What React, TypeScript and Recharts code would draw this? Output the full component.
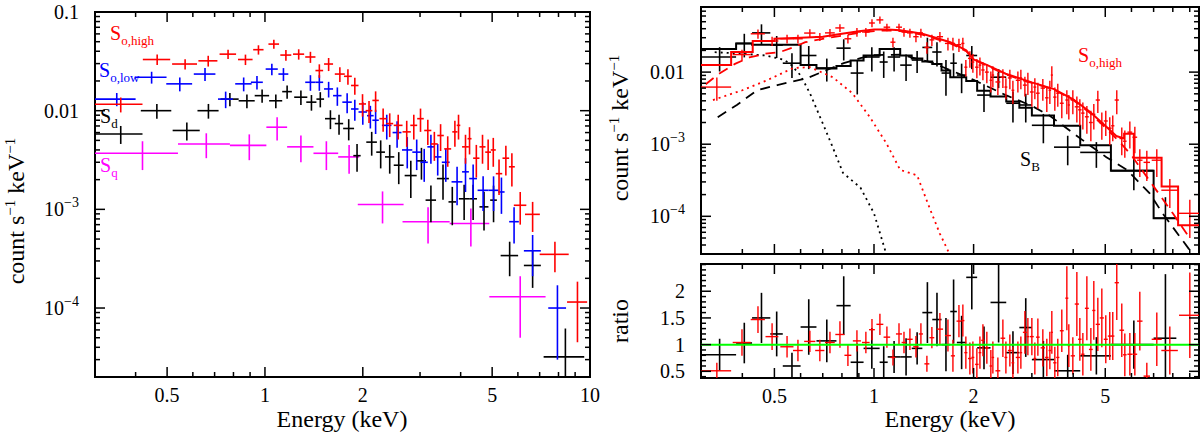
import React from "react"
import { ComposedChart, Scatter, Line, XAxis, YAxis, ErrorBar, ReferenceArea, ReferenceLine } from "recharts"

const FONT = '"Liberation Serif", "Times New Roman", serif'
const RED = "#ff0000"
const BLUE = "#0000ff"
const MAG = "#ff00ff"
const BLK = "#000000"
const GRN = "#00ff00"

// ---- ticks ----
const xMajor = [0.5, 1, 2, 5, 10]
const xMajorR = [0.5, 1, 2, 5]
const xMinor = [0.3, 0.4, 0.6, 0.7, 0.8, 0.9, 3, 4, 6, 7, 8, 9]
const yMajorL = [1e-4, 1e-3, 0.01, 0.1]
const yMajorR = [1e-4, 1e-3, 0.01]
const ratioMajor = [0.5, 1, 1.5, 2]
const ratioMinor = [0.4, 0.6, 0.7, 0.8, 0.9, 1.1, 1.2, 1.3, 1.4, 1.6, 1.7, 1.8, 1.9, 2.1, 2.2, 2.3, 2.4, 2.5]
const logMinors = (decades: number[], lo: number, hi: number) =>
  decades.flatMap((d) => [2, 3, 4, 5, 6, 7, 8, 9].map((k) => k * d)).filter((v) => v >= lo * 0.999 && v <= hi * 1.001)

// axis ranges
const xLeft: [number, number] = [0.3, 10]
const yLeft: [number, number] = [2e-5, 0.1]
const xRight: [number, number] = [0.3, 9.6]
const yRight: [number, number] = [3e-5, 0.08]
const yRatio: [number, number] = [0.375, 2.51]

// ---- left panel: S_o,high ----
const hiE = [0.36, 0.466, 0.568, 0.669, 0.77, 0.871, 0.955, 1.065, 1.16, 1.27, 1.38, 1.47, 1.57, 1.7, 1.8, 1.89, 1.996, 2.09, 2.19, 2.31, 2.42, 2.57, 2.73, 2.87, 3.01, 3.17, 3.32, 3.47, 3.65, 3.84, 3.94, 4.14, 4.26, 4.47, 4.67, 4.86, 5.04, 5.25, 5.51, 5.75, 6.1, 6.66, 7.8, 9.15]
const hiDE = [0.06, 0.045, 0.05, 0.045, 0.045, 0.045, 0.035, 0.04, 0.045, 0.05, 0.05, 0.04, 0.05, 0.06, 0.05, 0.05, 0.05, 0.05, 0.05, 0.06, 0.06, 0.08, 0.08, 0.07, 0.07, 0.08, 0.08, 0.08, 0.09, 0.07, 0.05, 0.1, 0.06, 0.1, 0.1, 0.1, 0.09, 0.12, 0.13, 0.12, 0.27, 0.35, 0.8, 0.65]
const hiY = [0.0116, 0.033, 0.0297, 0.032, 0.0374, 0.033, 0.0415, 0.0473, 0.0366, 0.0374, 0.035, 0.0255, 0.0297, 0.0235, 0.0223, 0.018, 0.0117, 0.01, 0.0127, 0.0083, 0.0074, 0.0071, 0.0061, 0.0071, 0.0083, 0.0063, 0.0046, 0.0056, 0.0041, 0.0061, 0.0071, 0.0043, 0.0052, 0.0033, 0.0043, 0.0038, 0.004, 0.0023, 0.0033, 0.0027, 0.0011, 0.00089, 0.00035, 0.000115]
const hiDY = [0.002, 0.004, 0.0035, 0.004, 0.004, 0.004, 0.0045, 0.005, 0.0045, 0.0045, 0.0045, 0.004, 0.0045, 0.004, 0.004, 0.0035, 0.003, 0.0025, 0.003, 0.0022, 0.002, 0.002, 0.0018, 0.002, 0.0022, 0.0018, 0.0015, 0.0017, 0.0014, 0.0018, 0.002, 0.0014, 0.0016, 0.0012, 0.0014, 0.0013, 0.0013, 0.0009, 0.0011, 0.001, 0.0004, 0.0003, 0.00012, 0.00007]

// S_o,low
const loE = [0.35, 0.448, 0.547, 0.654, 0.757, 0.86, 0.945, 1.05, 1.14, 1.38, 1.47, 1.57, 1.67, 1.79, 1.89, 2.0, 2.11, 2.19, 2.37, 2.55, 2.74, 2.93, 3.09, 3.24, 3.4, 3.6, 3.9, 4.14, 4.37, 4.69, 5.05, 5.34, 5.84, 6.66, 7.94]
const loDE = [0.05, 0.05, 0.05, 0.05, 0.04, 0.05, 0.04, 0.045, 0.04, 0.05, 0.04, 0.05, 0.05, 0.06, 0.05, 0.06, 0.05, 0.05, 0.08, 0.08, 0.1, 0.09, 0.08, 0.08, 0.09, 0.1, 0.15, 0.1, 0.12, 0.18, 0.18, 0.12, 0.2, 0.4, 0.5]
const loY = [0.0131, 0.0218, 0.0187, 0.0235, 0.0131, 0.0187, 0.0194, 0.0264, 0.0235, 0.0194, 0.0194, 0.0166, 0.0142, 0.0122, 0.0104, 0.0097, 0.0089, 0.008, 0.0071, 0.006, 0.004, 0.0038, 0.003, 0.0043, 0.0034, 0.003, 0.0019, 0.0024, 0.00205, 0.00156, 0.00156, 0.0015, 0.00075, 0.00038, 0.0001]
const loDY = [0.002, 0.003, 0.003, 0.0035, 0.0025, 0.003, 0.003, 0.0035, 0.0035, 0.0035, 0.0035, 0.003, 0.003, 0.0028, 0.0025, 0.0025, 0.0023, 0.0022, 0.002, 0.0018, 0.0014, 0.0013, 0.0011, 0.0014, 0.0012, 0.0011, 0.0008, 0.0009, 0.0008, 0.0006, 0.0006, 0.0006, 0.0003, 0.00017, 0.00007]

// S_d
const sdE = [0.36, 0.465, 0.575, 0.67, 0.78, 0.88, 0.98, 1.08, 1.17, 1.29, 1.39, 1.48, 1.59, 1.69, 1.81, 1.92, 2.13, 2.27, 2.42, 2.58, 2.81, 3.03, 3.24, 3.53, 3.77, 4.1, 4.37, 4.72, 5.05, 5.66, 6.66, 8.4]
const sdDE = [0.06, 0.05, 0.055, 0.05, 0.05, 0.05, 0.05, 0.05, 0.04, 0.06, 0.05, 0.04, 0.06, 0.05, 0.07, 0.05, 0.08, 0.07, 0.08, 0.09, 0.12, 0.1, 0.12, 0.15, 0.1, 0.15, 0.12, 0.15, 0.12, 0.35, 0.4, 1.2]
const sdY = [0.0058, 0.01, 0.0063, 0.01, 0.0131, 0.0126, 0.0142, 0.0126, 0.0156, 0.0137, 0.0122, 0.0131, 0.0083, 0.0074, 0.0066, 0.0035, 0.0048, 0.0038, 0.0034, 0.0028, 0.0022, 0.0031, 0.00124, 0.00205, 0.00119, 0.00128, 0.00128, 0.00106, 0.00124, 0.00034, 0.00027, 0.000032]
const sdDY = [0.0012, 0.0017, 0.0013, 0.0017, 0.002, 0.002, 0.0022, 0.002, 0.0024, 0.0023, 0.0022, 0.0023, 0.0018, 0.0017, 0.0016, 0.0011, 0.0013, 0.0012, 0.0011, 0.001, 0.0009, 0.0011, 0.0005, 0.0008, 0.0005, 0.0005, 0.0005, 0.00045, 0.0005, 0.00013, 0.00011, 0.00003]

// S_q
const sqE = [0.42, 0.66, 0.895, 1.09, 1.29, 1.545, 1.815, 2.3, 3.175, 4.3, 6.1]
const sqDE = [0.12, 0.12, 0.115, 0.08, 0.12, 0.135, 0.135, 0.37, 0.525, 0.6, 1.2]
const sqY = [0.0037, 0.0046, 0.00445, 0.0068, 0.0043, 0.0037, 0.0034, 0.00112, 0.00075, 0.00072, 0.00013]
const sqDY = [0.0012, 0.0013, 0.0013, 0.0018, 0.0013, 0.0012, 0.0011, 0.0004, 0.0003, 0.0003, 0.00008]

// ---- right panel: S_B (black) ----
const sbE = [0.3415, 0.4055, 0.457, 0.508, 0.565, 0.635, 0.72, 0.81, 0.89, 0.985, 1.07, 1.15, 1.25, 1.35, 1.45, 1.55, 1.65, 1.74, 1.84, 1.975, 2.15, 2.38, 2.63, 2.875, 3.25, 3.85, 4.7, 6.1, 7.6]
const sbDE = [0.0415, 0.0225, 0.029, 0.022, 0.035, 0.035, 0.05, 0.04, 0.04, 0.055, 0.03, 0.05, 0.05, 0.05, 0.05, 0.05, 0.05, 0.04, 0.06, 0.075, 0.1, 0.13, 0.12, 0.125, 0.25, 0.35, 0.5, 0.9, 0.6]
const sbY = [0.0162, 0.025, 0.035, 0.0237, 0.0133, 0.017, 0.0114, 0.0215, 0.0097, 0.0162, 0.0138, 0.0162, 0.0125, 0.0147, 0.022, 0.019, 0.0097, 0.0133, 0.0091, 0.017, 0.0048, 0.0085, 0.0037, 0.0035, 0.00183, 0.00091, 0.00077, 0.00043, 0.000094]
const sbDY = [0.006, 0.009, 0.011, 0.008, 0.005, 0.006, 0.004, 0.007, 0.0048, 0.006, 0.0055, 0.006, 0.005, 0.005, 0.008, 0.007, 0.005, 0.005, 0.004, 0.006, 0.002, 0.0025, 0.0017, 0.0015, 0.0008, 0.0004, 0.0003, 0.0002, 0.00009]
const sbModel = [0.021, 0.025, 0.024, 0.024, 0.024, 0.0125, 0.0112, 0.0122, 0.0145, 0.017, 0.021, 0.021, 0.017, 0.0155, 0.014, 0.013, 0.0105, 0.0085, 0.0085, 0.0075, 0.0055, 0.0046, 0.0039, 0.0032, 0.0025, 0.0018, 0.00097, 0.00043, 0.000094]
const sbRatio = [0.81, 1.03, 1.5, 1.2, 0.6, 1.33, 1.07, 1.73, 0.67, 0.93, 0.67, 0.77, 0.77, 0.93, 1.6, 1.47, 1.0, 1.62, 1.04, 2.26, 0.94, 1.79, 0.85, 1.32, 0.72, 0.51, 0.79, 1.0, 1.12]
const sbDRatio = [0.3, 0.38, 0.47, 0.42, 0.25, 0.52, 0.4, 0.55, 0.35, 0.38, 0.3, 0.3, 0.35, 0.3, 0.57, 0.5, 0.5, 0.6, 0.5, 0.6, 0.4, 0.75, 0.4, 0.55, 0.35, 0.3, 0.35, 0.45, 1.2]

// S_o,high (red, right panel)
const soE = [0.335, 0.399, 0.446, 0.492, 0.546, 0.589, 0.64, 0.686, 0.736, 0.789, 0.834, 0.888, 0.945, 0.986, 1.042, 1.094, 1.141, 1.19, 1.232, 1.284, 1.339, 1.386, 1.445, 1.496, 1.582, 1.673,
  1.732, 1.806, 1.856, 1.895, 1.949, 1.99, 2.046, 2.09, 2.134, 2.193,
  2.255, 2.287, 2.368, 2.452, 2.504, 2.574, 2.629, 2.722, 2.779, 2.858,
  2.918, 3.0, 3.063, 3.128, 3.238, 3.329, 3.4, 3.447, 3.52, 3.593,
  3.695, 3.827, 3.88, 3.99, 4.103, 4.189, 4.278, 4.399, 4.523, 4.617,
  4.748, 4.882, 5.018, 5.159, 5.268, 5.417, 5.609, 5.729, 5.933, 6.143,
  6.359, 6.677, 7.157, 7.836, 9.006]
const soDE = [0.035, 0.025, 0.022, 0.022, 0.025, 0.02, 0.025, 0.022, 0.025, 0.025, 0.02, 0.025, 0.025, 0.02, 0.025, 0.025, 0.02, 0.025, 0.02, 0.025, 0.025, 0.02, 0.025, 0.025, 0.035, 0.035,
  0.025, 0.03, 0.02, 0.02, 0.025, 0.02, 0.025, 0.02, 0.025, 0.03,
  0.02, 0.02, 0.04, 0.04, 0.025, 0.035, 0.025, 0.04, 0.025, 0.04,
  0.03, 0.04, 0.03, 0.04, 0.05, 0.04, 0.03, 0.025, 0.04, 0.04,
  0.05, 0.04, 0.03, 0.06, 0.06, 0.05, 0.05, 0.06, 0.06, 0.05,
  0.07, 0.07, 0.07, 0.07, 0.06, 0.08, 0.09, 0.07, 0.1, 0.1,
  0.12, 0.15, 0.25, 0.45, 0.65]
const soY = [0.0062, 0.0175, 0.034, 0.027, 0.029, 0.029, 0.0348, 0.031, 0.035, 0.041, 0.029, 0.036, 0.036, 0.048, 0.053, 0.042, 0.026, 0.042, 0.036, 0.035, 0.031, 0.035, 0.022, 0.028, 0.031, 0.025,
  0.025, 0.024, 0.025, 0.0117, 0.0155, 0.0138, 0.0117, 0.0125, 0.0107, 0.01,
  0.0077, 0.0091, 0.0073, 0.0085, 0.0062, 0.0083, 0.0056, 0.0077, 0.0083, 0.0066,
  0.0073, 0.0053, 0.0062, 0.0051, 0.006, 0.0044, 0.0056, 0.0091, 0.0045, 0.0051,
  0.0037, 0.0041, 0.0035, 0.0041, 0.0033, 0.003, 0.0027, 0.0024, 0.002, 0.0026,
  0.0041, 0.00195, 0.0021, 0.00167, 0.0018, 0.0041, 0.0012, 0.0011, 0.00147, 0.00125,
  0.0006, 0.00056, 0.0006, 0.00023, 0.00011]
const soDY = [0.0022, 0.003, 0.005, 0.004, 0.004, 0.004, 0.0045, 0.004, 0.0045, 0.005, 0.004, 0.005, 0.005, 0.006, 0.006, 0.005, 0.004, 0.005, 0.005, 0.005, 0.005, 0.005, 0.004, 0.005, 0.005, 0.005,
  0.005, 0.005, 0.005, 0.003, 0.004, 0.004, 0.0035, 0.0035, 0.003, 0.003,
  0.0025, 0.003, 0.0025, 0.0025, 0.002, 0.0025, 0.002, 0.0025, 0.0025, 0.002,
  0.0025, 0.002, 0.002, 0.002, 0.002, 0.0016, 0.002, 0.003, 0.0016, 0.0018,
  0.0014, 0.0015, 0.0013, 0.0015, 0.0013, 0.0012, 0.0011, 0.001, 0.0009, 0.001,
  0.0014, 0.0008, 0.0008, 0.0007, 0.0007, 0.0015, 0.0005, 0.00045, 0.0006, 0.0005,
  0.00025, 0.00025, 0.00025, 0.0001, 0.00006]
const soRatio = [0.51, 1.04, 1.47, 1.15, 0.96, 0.89, 1.06, 0.89, 1.04, 1.19, 0.8, 1.07, 1.04, 1.28, 1.38, 1.14, 0.76, 1.2, 1.04, 1.1, 0.96, 1.2, 0.64, 1.13, 1.29, 1.17,
  0.79, 1.44, 1.45, 0.85, 0.74, 0.76, 0.63, 0.85, 1.08, 0.94,
  0.6, 0.76, 0.51, 1.12, 0.76, 0.89, 0.66, 0.76, 0.85, 1.23,
  1.15, 1.15, 0.74, 1.14, 0.94, 0.76, 0.89, 1.23, 0.66, 0.76,
  1.26, 1.87, 0.98, 0.79, 1.76, 1.1, 0.82, 1.68, 0.91, 1.64,
  1.38, 1.5, 1.1, 1.16, 1.16, 2.16, 1.27, 0.81, 0.82, 0.82,
  1.44, 0.41, 1.1, 0.89, 1.55]
const soDRatio = [0.15, 0.25, 0.25, 0.25, 0.2, 0.2, 0.2, 0.2, 0.2, 0.25, 0.2, 0.2, 0.2, 0.2, 0.2, 0.2, 0.15, 0.2, 0.2, 0.2, 0.2, 0.2, 0.15, 0.2, 0.3, 0.3,
  0.3, 0.3, 0.3, 0.3, 0.3, 0.3, 0.3, 0.3, 0.3, 0.3,
  0.3, 0.3, 0.25, 0.35, 0.3, 0.3, 0.3, 0.3, 0.3, 0.4,
  0.35, 0.35, 0.3, 0.35, 0.35, 0.35, 0.35, 0.4, 0.3, 0.35,
  0.4, 0.6, 0.4, 0.35, 0.6, 0.4, 0.4, 0.6, 0.4, 0.55,
  0.5, 0.55, 0.45, 0.45, 0.45, 0.7, 0.5, 0.4, 0.4, 0.4,
  0.55, 0.25, 0.5, 0.45, 0.8]

// model curves (right panel)
const redModelE = [0.3, 0.37, 0.37, 0.43, 0.43, 0.5, 0.5, 0.6, 0.7, 0.8, 0.9, 1.0, 1.1, 1.2, 1.3, 1.4, 1.5, 1.7, 1.9, 2.0, 2.2, 2.5, 2.8, 3.0, 3.5, 4.0, 4.5, 5.0, 5.4, 5.7, 5.7, 6.1, 6.1, 7.4, 7.4, 8.3, 8.3, 9.6]
const redModelY = [0.0125, 0.0125, 0.019, 0.019, 0.027, 0.027, 0.029, 0.03, 0.031, 0.034, 0.037, 0.039, 0.039, 0.038, 0.036, 0.034, 0.031, 0.026, 0.02, 0.015, 0.0125, 0.0095, 0.008, 0.0072, 0.0058, 0.0042, 0.0028, 0.0018, 0.0013, 0.0012, 0.0014, 0.0014, 0.00065, 0.00065, 0.00026, 0.00026, 0.000075, 0.000075]
const redHardE = [0.31, 0.34, 0.38, 0.42, 0.47, 0.52, 0.57, 0.62, 0.7, 0.8, 0.9, 1.0, 1.1, 1.2, 1.3, 1.4, 1.5, 1.7, 1.9, 2.0, 2.2, 2.5, 2.8, 3.0, 3.5, 4.0, 4.5, 5.0, 5.5, 6.0, 7.0, 8.0, 9.0]
const redHardY = [0.0068, 0.0095, 0.013, 0.016, 0.018, 0.019, 0.022, 0.026, 0.029, 0.032, 0.035, 0.037, 0.038, 0.037, 0.035, 0.033, 0.03, 0.025, 0.0195, 0.015, 0.0122, 0.0093, 0.0078, 0.0071, 0.0057, 0.0041, 0.0027, 0.0017, 0.0011, 0.0007, 0.00026, 0.00011, 0.00005]
const redSoftE = [0.326, 0.4, 0.475, 0.57, 0.64, 0.75, 0.86, 0.97, 1.09, 1.2, 1.35, 1.47, 1.58, 1.67, 1.72]
const redSoftY = [0.0041, 0.0056, 0.0077, 0.0114, 0.0117, 0.0085, 0.0051, 0.0024, 0.00103, 0.00044, 0.00037, 0.000133, 0.000058, 0.000034, 0.000024]
const blkHardE = [0.337, 0.385, 0.443, 0.51, 0.63, 0.72, 0.81, 0.91, 1.0, 1.2, 1.5, 2.0, 2.5, 3.0, 3.39, 4.27, 5.04, 5.82, 6.8, 7.45, 9.0]
const blkHardY = [0.00237, 0.0035, 0.0056, 0.0066, 0.0083, 0.0107, 0.0133, 0.0156, 0.0172, 0.0175, 0.0135, 0.0078, 0.0048, 0.0034, 0.0025, 0.00114, 0.00066, 0.00044, 0.00021, 0.00011, 0.000034]
const blkSoftE = [0.33, 0.4, 0.47, 0.53, 0.556, 0.6, 0.64, 0.7, 0.75, 0.806, 0.91, 1.0, 1.08, 1.12]
const blkSoftY = [0.0189, 0.018, 0.017, 0.015, 0.0133, 0.009, 0.0051, 0.00195, 0.00091, 0.0004, 0.00025, 0.00011, 0.000034, 0.00002]

type Row = { x: number; y: number; ex: [number, number]; ey: [number, number] }
// error bars are cut at the frame, as in the original plot
const rows = (e: number[], de: number[], v: number[], dv: number[], xr: [number, number], yr: [number, number]): Row[] =>
  e.map((x, i) => ({
    x,
    y: v[i],
    ex: [Math.min(de[i], x - xr[0]), Math.min(de[i], xr[1] - x)],
    ey: [Math.min(dv[i], v[i] - yr[0]), Math.min(dv[i], yr[1] - v[i])],
  }))
const pts = (e: number[], v: number[]) => e.map((x, i) => ({ x, y: v[i] }))
const stepPts = (e: number[], de: number[], v: number[]) => [
  ...e.map((x, i) => ({ x: x - de[i], y: v[i] })),
  { x: e[e.length - 1] + de[de.length - 1], y: v[v.length - 1] },
]

const NoDot = () => <g />

function crosses(key: string, data: Row[], color: string, w = 1.6) {
  return (
    <Scatter key={key} data={data} dataKey="y" shape={NoDot} fill={color} isAnimationActive={false}>
      <ErrorBar dataKey="ex" direction="x" width={0} stroke={color} strokeWidth={w} isAnimationActive={false} />
      <ErrorBar dataKey="ey" direction="y" width={0} stroke={color} strokeWidth={w} isAnimationActive={false} />
    </Scatter>
  )
}

function curve(key: string, data: { x: number; y: number }[], color: string, dash?: string, type: any = "linear", w = 1.8) {
  return (
    <Line key={key} data={data} dataKey="y" type={type} stroke={color} strokeWidth={w} strokeDasharray={dash}
      dot={false} activeDot={false} isAnimationActive={false} />
  )
}

function tickText(v: number) {
  if (v >= 0.01) return String(v)
  const exp = Math.round(Math.log10(v))
  return (
    <>
      <tspan>10</tspan>
      <tspan dy={-9} fontSize={14}>{"\u2212" + -exp}</tspan>
    </>
  )
}

const xTick = (majors: number[], plotH: number, labels: boolean) => (p: any) => {
  const { x, y, payload } = p
  const major = majors.includes(payload.value)
  const len = major ? 10 : 5
  return (
    <g>
      <line x1={x} x2={x} y1={y} y2={y - len} stroke={BLK} strokeWidth={1.5} />
      <line x1={x} x2={x} y1={y - plotH} y2={y - plotH + len} stroke={BLK} strokeWidth={1.5} />
      {labels && major && (
        <text x={x} y={y + 25} textAnchor="middle" fontSize={20} fontFamily={FONT} fill={BLK}>
          {tickText(payload.value)}
        </text>
      )}
    </g>
  )
}

const yTick = (majors: number[], plotW: number) => (p: any) => {
  const { x, y, payload } = p
  const major = majors.includes(payload.value)
  const len = major ? 10 : 5
  return (
    <g>
      <line x1={x} x2={x + len} y1={y} y2={y} stroke={BLK} strokeWidth={1.5} />
      <line x1={x + plotW} x2={x + plotW - len} y1={y} y2={y} stroke={BLK} strokeWidth={1.5} />
      {major && (
        <text x={x - 16} y={y + 7} textAnchor="end" fontSize={20} fontFamily={FONT} fill={BLK}>
          {tickText(payload.value)}
        </text>
      )}
    </g>
  )
}

const sorted = (a: number[]) => [...a].sort((p, q) => p - q)

function LeftPanel() {
  const yTicks = sorted([...yMajorL, ...logMinors([1e-5, 1e-4, 1e-3, 1e-2], yLeft[0], yLeft[1])])
  return (
    <ComposedChart width={600} height={432} margin={{ top: 12, right: 10, bottom: 0, left: 0 }}>
      <XAxis dataKey="x" type="number" scale="log" domain={xLeft} allowDataOverflow ticks={sorted([...xMinor, ...xMajor])}
        interval={0} tickSize={0} tickMargin={0} axisLine={false} tickLine={false} height={55} tick={xTick(xMajor, 365, true)} />
      <YAxis dataKey="y" type="number" scale="log" domain={yLeft} allowDataOverflow ticks={yTicks}
        interval={0} tickSize={0} tickMargin={0} axisLine={false} tickLine={false} width={95} tick={yTick(yMajorL, 495)} />
      <ReferenceArea x1={xLeft[0]} x2={xLeft[1]} y1={yLeft[0]} y2={yLeft[1]} fill="none" fillOpacity={0} stroke={BLK} strokeWidth={2} ifOverflow="visible" />
      {crosses("q", rows(sqE, sqDE, sqY, sqDY, xLeft, yLeft), MAG)}
      {crosses("d", rows(sdE, sdDE, sdY, sdDY, xLeft, yLeft), BLK)}
      {crosses("lo", rows(loE, loDE, loY, loDY, xLeft, yLeft), BLUE)}
      {crosses("hi", rows(hiE, hiDE, hiY, hiDY, xLeft, yLeft), RED)}
    </ComposedChart>
  )
}

function SpectrumPanel() {
  const yTicks = sorted([...yMajorR, ...logMinors([1e-5, 1e-4, 1e-3, 1e-2], yRight[0], yRight[1])])
  return (
    <ComposedChart width={600} height={260} margin={{ top: 7, right: 1, bottom: 0, left: 0 }}>
      <XAxis dataKey="x" type="number" scale="log" domain={xRight} allowDataOverflow ticks={sorted([...xMinor, ...xMajorR])}
        interval={0} tickSize={0} tickMargin={0} axisLine={false} tickLine={false} height={6} tick={xTick(xMajorR, 247, false)} />
      <YAxis dataKey="y" type="number" scale="log" domain={yRight} allowDataOverflow ticks={yTicks}
        interval={0} tickSize={0} tickMargin={0} axisLine={false} tickLine={false} width={101} tick={yTick(yMajorR, 498)} />
      <ReferenceArea x1={xRight[0]} x2={xRight[1]} y1={yRight[0]} y2={yRight[1]} fill="none" fillOpacity={0} stroke={BLK} strokeWidth={2} ifOverflow="visible" />
      {curve("bsoft", pts(blkSoftE, blkSoftY), BLK, "2 4")}
      {curve("bhard", pts(blkHardE, blkHardY), BLK, "10 7")}
      {curve("bmodel", stepPts(sbE, sbDE, sbModel), BLK, undefined, "stepAfter", 2)}
      {crosses("sb", rows(sbE, sbDE, sbY, sbDY, xRight, yRight), BLK, 1.6)}
      {curve("rsoft", pts(redSoftE, redSoftY), RED, "2 4")}
      {curve("rhard", pts(redHardE, redHardY), RED, "10 7")}
      {crosses("so", rows(soE, soDE, soY, soDY, xRight, yRight), RED, 1.4)}
      {curve("rmodel", pts(redModelE, redModelY), RED, undefined, "linear", 2)}
    </ComposedChart>
  )
}

function RatioPanel() {
  return (
    <ComposedChart width={600} height={174} margin={{ top: 6, right: 1, bottom: 0, left: 0 }}>
      <XAxis dataKey="x" type="number" scale="log" domain={xRight} allowDataOverflow ticks={sorted([...xMinor, ...xMajorR])}
        interval={0} tickSize={0} tickMargin={0} axisLine={false} tickLine={false} height={54} tick={xTick(xMajorR, 114, true)} />
      <YAxis dataKey="y" type="number" domain={yRatio} allowDataOverflow ticks={sorted([...ratioMajor, ...ratioMinor])}
        interval={0} tickSize={0} tickMargin={0} axisLine={false} tickLine={false} width={101} tick={yTick(ratioMajor, 498)} />
      <ReferenceArea x1={xRight[0]} x2={xRight[1]} y1={yRatio[0]} y2={yRatio[1]} fill="none" fillOpacity={0} stroke={BLK} strokeWidth={2} ifOverflow="visible" />
      {crosses("sbr", rows(sbE, sbDE, sbRatio, sbDRatio, xRight, yRatio), BLK, 1.6)}
      {crosses("sor", rows(soE, soDE, soRatio, soDRatio, xRight, yRatio), RED, 1.4)}
      <ReferenceLine y={1} stroke={GRN} strokeWidth={2} ifOverflow="visible" />
    </ComposedChart>
  )
}

function Sub({ x, y, color, main, sub }: { x: number; y: number; color: string; main: string; sub: string }) {
  return (
    <text x={x} y={y} fill={color} fontSize={20} fontFamily={FONT}>
      {main}
      <tspan dy={5} fontSize={13}>{sub}</tspan>
    </text>
  )
}

function YTitle({ x, y }: { x: number; y: number }) {
  return (
    <text transform={`translate(${x},${y}) rotate(-90)`} textAnchor="middle" fontSize={24} fontFamily={FONT} fill={BLK}>
      count s<tspan dy={-9} fontSize={15}>{"\u22121"}</tspan>
      <tspan dy={9}> keV</tspan>
      <tspan dy={-9} fontSize={15}>{"\u22121"}</tspan>
    </text>
  )
}

export default function App() {
  return (
    <div style={{ position: "fixed", left: 0, top: 0, width: 1200, height: 432, background: "#fff", overflow: "hidden" }}>
      <div style={{ position: "absolute", left: 0, top: 0 }}>
        <LeftPanel />
      </div>
      <div style={{ position: "absolute", left: 600, top: 0 }}>
        <SpectrumPanel />
      </div>
      <div style={{ position: "absolute", left: 600, top: 258 }}>
        <RatioPanel />
      </div>
      <svg width={1200} height={432} style={{ position: "absolute", left: 0, top: 0, pointerEvents: "none" }}>
        <YTitle x={24} y={211} />
        <YTitle x={628} y={128} />
        <text transform="translate(628,321) rotate(-90)" textAnchor="middle" fontSize={24} fontFamily={FONT} fill={BLK}>ratio</text>
        <text x={342} y={427} textAnchor="middle" fontSize={24} fontFamily={FONT} fill={BLK}>Energy (keV)</text>
        <text x={950} y={427} textAnchor="middle" fontSize={24} fontFamily={FONT} fill={BLK}>Energy (keV)</text>
        <Sub x={110} y={40} color={RED} main="S" sub="o,high" />
        <Sub x={99} y={77} color={BLUE} main="S" sub="o,low" />
        <Sub x={100} y={123} color={BLK} main="S" sub="d" />
        <Sub x={100} y={172} color={MAG} main="S" sub="q" />
        <Sub x={1078} y={62} color={RED} main="S" sub="o,high" />
        <Sub x={1020} y={166} color={BLK} main="S" sub="B" />
      </svg>
    </div>
  )
}
